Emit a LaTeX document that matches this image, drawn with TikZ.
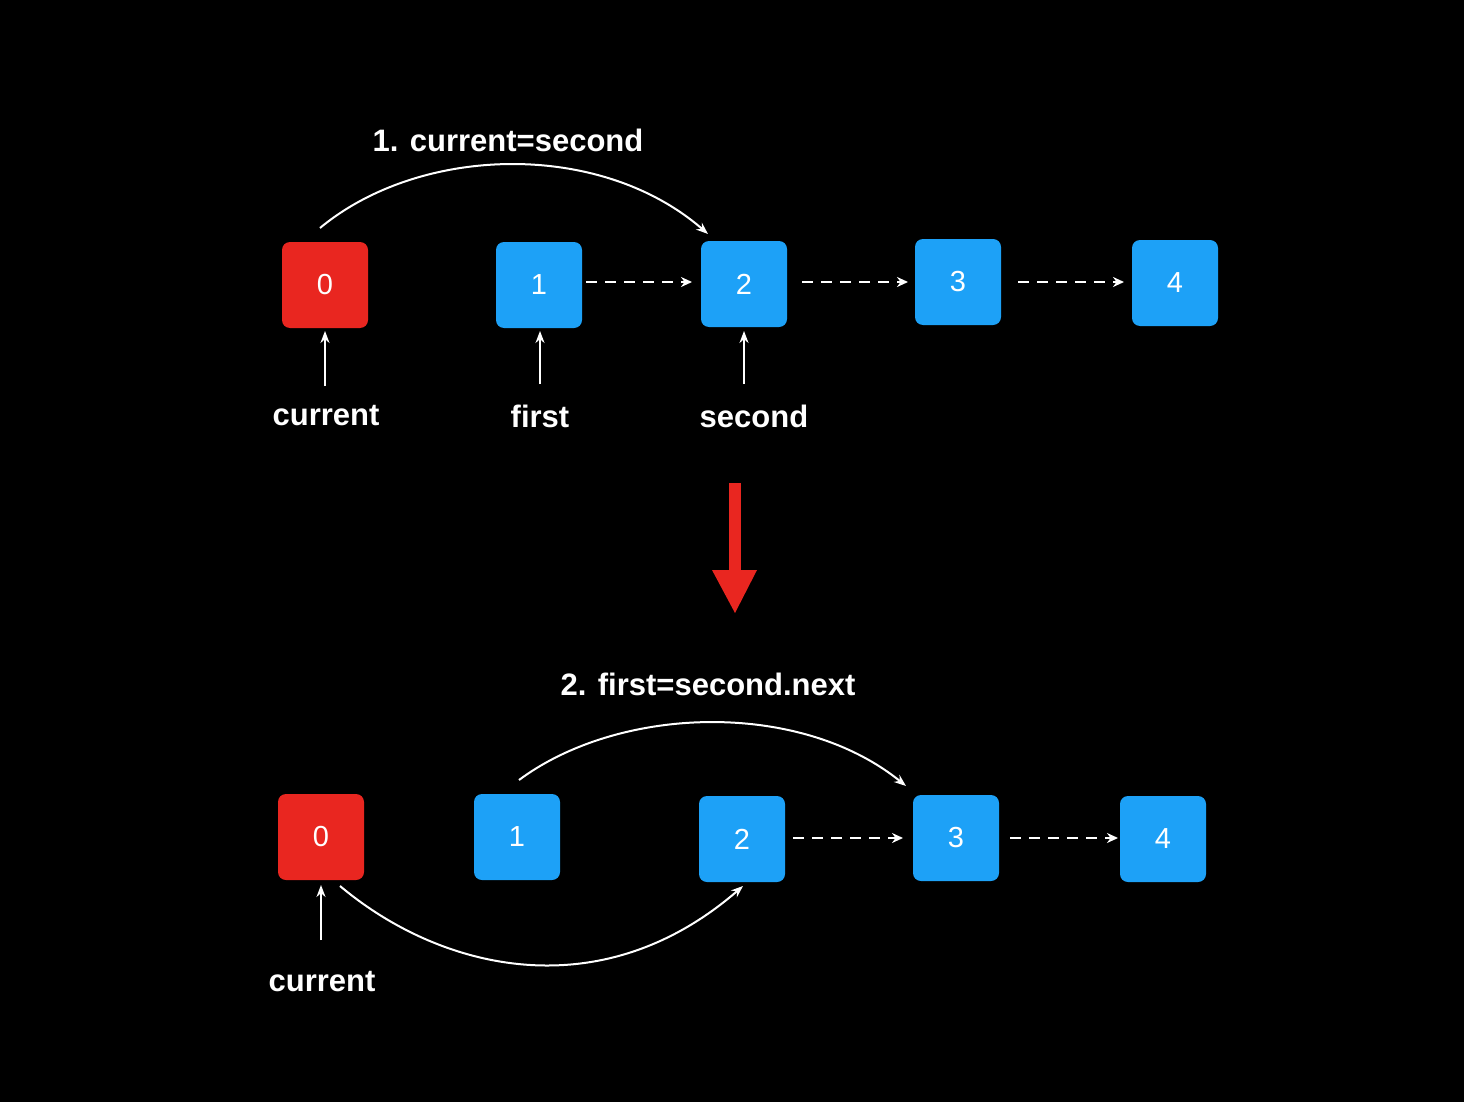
\documentclass[tikz,border=0pt]{standalone}
\usepackage{fontspec}
\setmainfont{Liberation Sans}
\usetikzlibrary{arrows.meta}
\definecolor{myred}{RGB}{233,38,32}
\definecolor{myblue}{RGB}{29,161,247}
\begin{document}
\begin{tikzpicture}[x=1pt,y=-1pt,
 box/.style={rounded corners=8pt,minimum width=86pt,minimum height=86pt,text=white,font=\fontsize{29}{32}\selectfont,inner sep=0},
 rbox/.style={box,fill=myred},
 bbox/.style={box,fill=myblue},
 lab/.style={text=white,font=\fontsize{31}{36}\selectfont\bfseries},
 arr/.style={white,line width=2pt,-{Stealth[length=12pt,width=9pt]}},
 dsh/.style={white,line width=2pt,dash pattern=on 11pt off 8pt,-{Stealth[length=11pt,width=10pt]}}]
\fill[black] (0,0) rectangle (1464,1102);
\useasboundingbox (0,0) rectangle (1464,1102);
% top
\node[rbox] (a0) at (325,285) {0};
\node[bbox] (a1) at (539,285) {1};
\node[bbox] (a2) at (744,284) {2};
\node[bbox] (a3) at (958,282) {3};
\node[bbox] (a4) at (1175,283) {4};
\node[lab] (t1) at (508,140) {1. current=second};
\node[lab] (lc) at (326,416) {current};
\node[lab] (lf) at (540,416) {first};
\node[lab] (ls) at (754,416) {second};
\draw[arr] (325,386) -- (325,331);
\draw[arr] (540,384) -- (540,331);
\draw[arr] (744,384) -- (744,331);
\draw[dsh] (586,282) -- (692,282);
\draw[dsh] (802,282) -- (908,282);
\draw[dsh] (1018,282) -- (1124,282);
\draw[arr] (320,228) .. controls (420,145) and (600,140) .. (708,234);
% red arrow
\fill[myred] (729,483) rectangle (741,572);
\fill[myred] (712,570) -- (757,570) -- (735,613) -- cycle;
% bottom
\node[rbox] (b0) at (321,837) {0};
\node[bbox] (b1) at (517,837) {1};
\node[bbox] (b2) at (742,839) {2};
\node[bbox] (b3) at (956,838) {3};
\node[bbox] (b4) at (1163,839) {4};
\node[lab] (t2) at (708,684) {2. first=second.next};
\node[lab] (lc2) at (322,982) {current};
\draw[arr] (321,940) -- (321,885);
\draw[dsh] (793,838) -- (903,838);
\draw[dsh] (1010,838) -- (1118,838);
\draw[arr] (519,780) .. controls (620,705) and (800,700) .. (906,786);
\draw[arr] (340,886) .. controls (440,970) and (600,1010) .. (743,886);
\end{tikzpicture}
\end{document}
